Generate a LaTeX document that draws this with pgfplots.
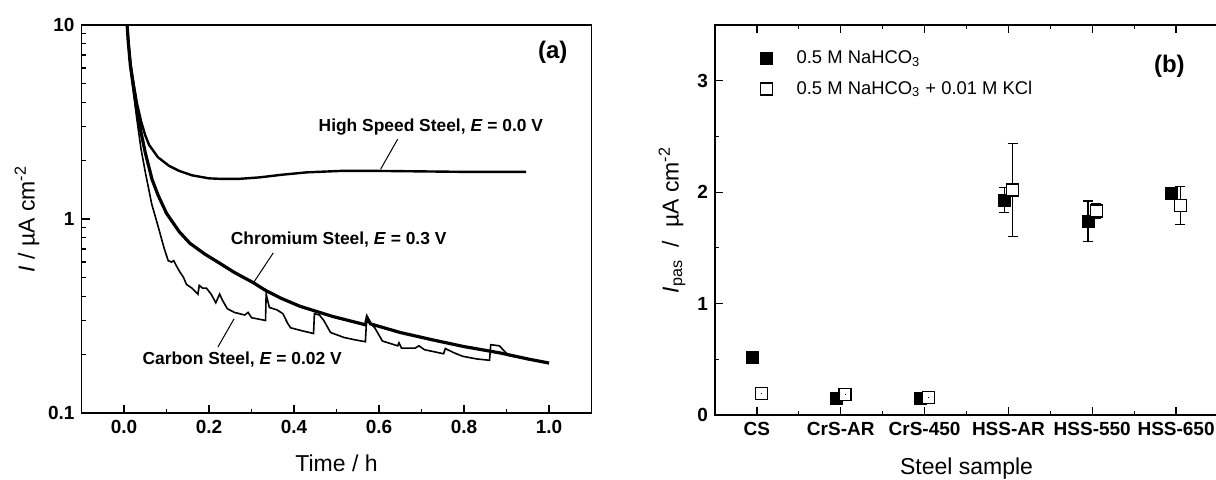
\documentclass[border=0pt]{standalone}
\usepackage{pgfplots}
\pgfplotsset{compat=1.18}
\usepackage{fontspec}
\setmainfont{Liberation Sans}

\pgfplotstableread{
t I
0.005 12
0.01 8.0
0.015 6.0
0.02 4.9
0.03 3.3
0.04 2.3
0.05 1.75
0.065 1.2
0.08 0.92
0.095 0.70
0.104 0.61
0.112 0.60
0.117 0.61
0.122 0.58
0.13 0.54
0.14 0.50
0.147 0.46
0.16 0.44
0.174 0.41
0.177 0.455
0.185 0.44
0.194 0.44
0.205 0.41
0.216 0.37
0.225 0.41
0.232 0.38
0.243 0.345
0.26 0.33
0.284 0.32
0.292 0.33
0.30 0.31
0.333 0.30
0.3345 0.41
0.342 0.35
0.36 0.34
0.374 0.325
0.385 0.29
0.392 0.275
0.42 0.265
0.446 0.257
0.448 0.325
0.46 0.32
0.47 0.30
0.486 0.26
0.518 0.245
0.545 0.238
0.568 0.233
0.571 0.31
0.58 0.29
0.59 0.275
0.608 0.235
0.644 0.222
0.647 0.23
0.653 0.216
0.685 0.216
0.694 0.222
0.707 0.212
0.752 0.202
0.756 0.215
0.775 0.205
0.797 0.196
0.83 0.19
0.86 0.187
0.863 0.225
0.883 0.222
0.905 0.198
0.95 0.19
1.0 0.18
}\datacarbon

\pgfplotstableread{
t I
0.005 12
0.01 8.2
0.015 6.2
0.02 5.2
0.03 3.7
0.04 2.8
0.05 2.2
0.066 1.6
0.08 1.33
0.1 1.07
0.13 0.86
0.155 0.75
0.19 0.66
0.226 0.59
0.26 0.53
0.304 0.47
0.332 0.43
0.37 0.39
0.414 0.355
0.49 0.315
0.568 0.285
0.572 0.31
0.58 0.288
0.65 0.26
0.727 0.238
0.8 0.22
0.885 0.204
0.95 0.19
1.0 0.181
}\datachromium

\pgfplotstableread{
t I
0.005 12
0.01 8.3
0.015 6.4
0.02 5.4
0.03 4.0
0.04 3.2
0.05 2.7
0.059 2.41
0.08 2.08
0.106 1.88
0.13 1.77
0.16 1.68
0.2 1.62
0.23 1.61
0.27 1.61
0.32 1.64
0.37 1.69
0.43 1.74
0.51 1.77
0.6 1.77
0.7 1.76
0.8 1.75
0.946 1.75
}\datahighspeed

\pgfplotstableread{
x y e
0.95 0.52 0
1.95 0.15 0
2.95 0.15 0
3.95 1.93 0.11
4.95 1.74 0.18
5.95 1.99 0.05
}\datanahco

\pgfplotstableread{
x y e
1.05 0.19 0.05
2.05 0.185 0.04
3.05 0.16 0.035
4.05 2.02 0.42
5.05 1.83 0.07
6.05 1.88 0.17
}\datakcl

\pgfplotstableread{
x y e
1.05 0.19 0.05
2.05 0.185 0.04
3.05 0.16 0.035
}\datakclsmall

\begin{document}
\begin{tikzpicture}
\path[use as bounding box] (0,0) rectangle (608pt,239.5pt);

\pgfplotsset{
  every axis/.append style={
    scale only axis,
    axis line style={line width=0.8pt},
    every tick/.style={black, line width=0.6pt},
    major tick length=4pt,
    minor tick length=2.2pt,
    /pgf/number format/assume math mode=true,
    ticklabel style={font=\fontsize{9.5}{10}\selectfont\bfseries},
    label style={font=\fontsize{11.5}{13}\selectfont},
  }
}

% ---------- panel (a) ----------
\begin{axis}[
  at={(40.75pt,33pt)}, anchor=south west,
  width=255pt, height=194pt,
  xmin=-0.1, xmax=1.1,
  ymode=log, ymin=0.1, ymax=10,
  xtick={0,0.2,0.4,0.6,0.8,1.0},
  minor x tick num=1,
  xticklabel style={/pgf/number format/.cd, fixed, fixed zerofill, precision=1},
  ytick={0.1,1,10}, yticklabels={0.1,1,10},
  tick pos=left,
  xlabel={Time / h},
  ylabel={\textit{I} / µA cm\textsuperscript{-2}},
  xlabel style={at={(axis description cs:0.5,-0.129)}, anchor=center},
  ylabel style={at={(axis description cs:-0.107,0.5)}, anchor=center},
]
\addplot[black, line width=0.8pt] table[x=t,y=I] {\datacarbon};
\addplot[black, line width=1.6pt] table[x=t,y=I] {\datachromium};
\addplot[black, line width=1.2pt] table[x=t,y=I] {\datahighspeed};

\draw[black, line width=0.5pt] (axis cs:0.644,2.58) -- (axis cs:0.604,1.81);
\draw[black, line width=0.5pt] (axis cs:0.351,0.668) -- (axis cs:0.304,0.467);
\draw[black, line width=0.5pt] (axis cs:0.259,0.306) -- (axis cs:0.221,0.219);

\node[font=\fontsize{8.7}{10}\selectfont\bfseries] at (axis cs:0.722,2.98) {High Speed Steel, \textit{E} = 0.0 V};
\node[font=\fontsize{8.7}{10}\selectfont\bfseries] at (axis cs:0.505,0.78) {Chromium Steel, \textit{E} = 0.3 V};
\node[font=\fontsize{8.7}{10}\selectfont\bfseries] at (axis cs:0.278,0.188) {Carbon Steel, \textit{E} = 0.02 V};
\node[font=\fontsize{12}{13}\selectfont\bfseries] at (axis cs:1.009,7.2) {(a)};
\end{axis}

% ---------- panel (b) ----------
\begin{axis}[
  at={(357.5pt,32pt)}, anchor=south west,
  width=251.5pt, height=195pt,
  xmin=0.5, xmax=6.5,
  ymin=0, ymax=3.5,
  xtick={1,2,3,4,5,6},
  xticklabels={CS,CrS-AR,CrS-450,HSS-AR,HSS-550,HSS-650},
  minor xtick={1.5,2.5,3.5,4.5,5.5},
  ytick={0,1,2,3},
  minor ytick={0.5,1.5,2.5,3.5},
  ytick pos=left,
  xlabel={Steel sample},
  ylabel={\textit{I}\textsubscript{pas}\ \ /\ \ µA cm\textsuperscript{-2}},
  xlabel style={at={(axis description cs:0.5,-0.138)}, anchor=center},
  ylabel style={at={(axis description cs:-0.0855,0.5)}, anchor=center},
  legend style={at={(axis description cs:0.078,0.955)}, anchor=north west,
    draw=none, fill=none, font=\fontsize{9.2}{11}\selectfont, row sep=3pt},
  legend cell align=left,
]
\addplot[only marks, mark=square*, mark size=3pt, mark options={fill=black, draw=black},
  error bars/.cd, y dir=both, y explicit,
  error bar style={line width=0.6pt, black},
  error mark options={rotate=90, mark size=2.5pt, line width=0.6pt, black}]
  table[x=x, y=y, y error=e] {\datanahco};
\addlegendentry{\hspace*{10pt}0.5 M NaHCO\textsubscript{3}}
\addplot[only marks, mark=square*, mark size=3pt, mark options={fill=white, draw=black, line width=0.6pt},
  error bars/.cd, y dir=both, y explicit,
  error bar style={line width=0.6pt, black},
  error mark options={rotate=90, mark size=2.5pt, line width=0.6pt, black}]
  table[x=x, y=y, y error=e] {\datakcl};
\addlegendentry{\hspace*{10pt}0.5 M NaHCO\textsubscript{3} + 0.01 M KCl}
\addplot[forget plot, only marks, mark=square, mark size=0.01pt, mark options={draw=none, fill=none},
  error bars/.cd, y dir=both, y explicit,
  error bar style={line width=0.5pt, draw=black},
  error mark options={rotate=90, mark size=2.5pt, line width=0.5pt, draw=black}]
  table[x=x, y=y, y error=e] {\datakclsmall};

\node[font=\fontsize{12}{13}\selectfont\bfseries] at (axis cs:5.92,3.13) {(b)};
\end{axis}
\end{tikzpicture}
\end{document}
